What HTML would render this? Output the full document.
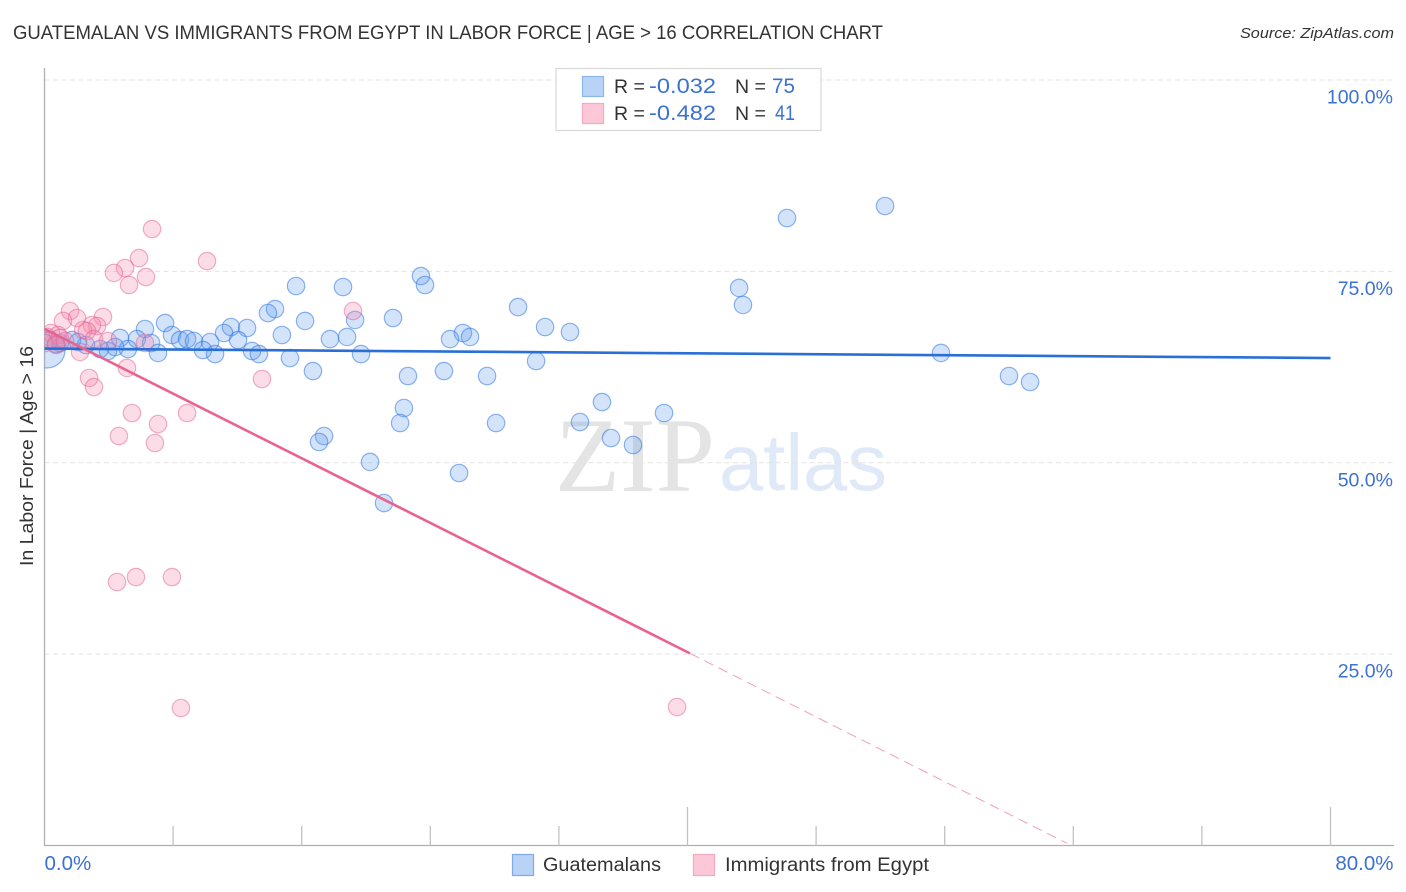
<!DOCTYPE html>
<html lang="en">
<head>
<meta charset="utf-8">
<title>Guatemalan vs Immigrants from Egypt in Labor Force | Age &gt; 16 Correlation Chart</title>
<style>
html,body{margin:0;padding:0;background:#fff;}
svg{display:block;font-family:"Liberation Sans",sans-serif;}
</style>
</head>
<body>
<svg id="chart" xmlns="http://www.w3.org/2000/svg" width="1406" height="892" viewBox="0 0 1406 892">
  <defs>
    <clipPath id="plot-clip"><rect x="44.5" y="60" width="1350" height="786"/></clipPath>
  </defs>
  <rect width="1406" height="892" fill="#ffffff"/>
  <text x="13" y="39" font-size="19" fill="#333333" textLength="870" lengthAdjust="spacingAndGlyphs">GUATEMALAN VS IMMIGRANTS FROM EGYPT IN LABOR FORCE | AGE &gt; 16 CORRELATION CHART</text>
  <text x="1394" y="38" font-size="15" font-style="italic" fill="#333333" text-anchor="end" textLength="154" lengthAdjust="spacingAndGlyphs">Source: ZipAtlas.com</text>

  <g>
    <text x="555" y="491" font-family="'Liberation Serif',serif" font-size="106" fill="#e4e4e4" textLength="160" lengthAdjust="spacingAndGlyphs">ZIP</text>
    <text x="719" y="490" font-size="80" fill="#dfe9f7" textLength="168" lengthAdjust="spacingAndGlyphs">atlas</text>
  </g>

  <g id="grid"></g>
  <g id="axes"></g>
  <g id="points-blue" clip-path="url(#plot-clip)"></g>
  <g id="points-pink" clip-path="url(#plot-clip)"></g>
  <g id="trends"></g>
  <g id="ylabels"></g>
  <g id="xlabels"></g>

  <text transform="translate(33,456) rotate(-90)" font-size="18" fill="#333333" text-anchor="middle" textLength="220" lengthAdjust="spacingAndGlyphs">In Labor Force | Age &gt; 16</text>

  <g>
    <rect x="556" y="68.5" width="265" height="62" fill="#ffffff" stroke="#d8d8d8" stroke-width="1.2"/>
    <rect x="582.5" y="76.5" width="21" height="20" fill="#b9d3f7" stroke="#8db6ec" stroke-width="1.2"/>
    <rect x="582.5" y="103.5" width="21" height="20" fill="#fcc8d8" stroke="#f3a9c0" stroke-width="1.2"/>
    <text x="614" y="93" font-size="19.5" fill="#333333">R =</text>
    <text x="649" y="93" font-size="21" fill="#3b72d2" textLength="67" lengthAdjust="spacingAndGlyphs">-0.032</text>
    <text x="735" y="93" font-size="19.5" fill="#333333">N =</text>
    <text x="772" y="93" font-size="21" fill="#3b72d2" textLength="23" lengthAdjust="spacingAndGlyphs">75</text>
    <text x="614" y="120" font-size="19.5" fill="#333333">R =</text>
    <text x="649" y="120" font-size="21" fill="#3b72d2" textLength="67" lengthAdjust="spacingAndGlyphs">-0.482</text>
    <text x="735" y="120" font-size="19.5" fill="#333333">N =</text>
    <text x="775" y="120" font-size="21" fill="#3b72d2" textLength="20" lengthAdjust="spacingAndGlyphs">41</text>
  </g>

  <g>
    <rect x="512.5" y="854.5" width="21" height="21" fill="#b9d3f7" stroke="#7faae6" stroke-width="1.2"/>
    <text x="543" y="871" font-size="19" fill="#333333" textLength="118" lengthAdjust="spacingAndGlyphs">Guatemalans</text>
    <rect x="693.5" y="854.5" width="21" height="21" fill="#fcc8d8" stroke="#f3a9c0" stroke-width="1.2"/>
    <text x="725" y="871" font-size="19" fill="#333333" textLength="204" lengthAdjust="spacingAndGlyphs">Immigrants from Egypt</text>
  </g>
</svg>
<script>
const yTickValues = [25, 50, 75, 100];
const yTickLabels = ["25.0%", "50.0%", "75.0%", "100.0%"];
const xTickValues = [8, 16, 24, 32, 40, 48, 56, 64, 72, 80];
const xTickMajor = [40, 80];
const xEndValues = [0, 80];
const xEndLabels = ["0.0%", "80.0%"];

const guatemalanX = [46.19,52.29,15.65,18.57,23.42,23.67,43.21,43.45,14.34,13.90,29.46,16.21,19.32,21.68,31.14,32.69,7.50,6.25,7.93,11.60,12.60,11.17,14.77,26.03,26.47,25.23,17.76,18.82,4.70,5.75,6.63,8.43,8.87,9.30,10.30,12.04,9.86,10.61,12.91,13.34,15.27,19.69,7.06,5.19,4.39,3.45,3.95,2.58,1.71,0.96,30.58,16.70,22.61,24.85,27.53,55.77,60.00,61.31,34.68,22.36,22.12,28.09,33.31,38.54,35.24,36.61,17.39,17.08,20.25,25.79,21.12,0.34,0.72,2.08];
const guatemalanY = [81.97,83.54,73.09,72.96,74.39,73.22,72.83,70.61,70.08,69.56,70.34,68.52,68.65,68.91,67.73,67.08,68.25,67.47,66.69,67.73,67.60,66.95,66.69,66.95,66.43,66.16,66.16,66.43,66.30,66.16,65.64,66.03,66.16,65.90,65.77,66.03,64.73,64.20,64.60,64.20,63.68,64.20,64.34,64.86,65.12,64.86,64.60,65.38,66.03,65.64,63.29,61.98,61.33,61.98,61.33,64.34,61.33,60.55,57.93,57.15,55.19,55.19,55.32,56.50,53.23,52.32,53.49,52.71,50.10,48.66,44.74,66.03,65.51,65.77];
const guatemalanPooledX = [0.16];
const guatemalanPooledY = [64.73];

const egyptX = [6.69,10.11,5.88,5.01,4.32,6.31,5.26,19.19,1.59,2.02,3.64,1.15,3.27,2.95,2.40,2.64,0.40,0.84,0.16,0.03,0.96,0.72,1.28,3.08,3.95,6.25,2.21,5.13,2.77,3.08,13.53,5.44,8.87,7.06,4.63,6.87,4.51,5.69,7.93,8.49,39.35];
const egyptY = [80.53,76.35,76.74,75.44,74.79,74.26,73.22,69.82,69.82,68.91,69.04,68.52,67.86,67.99,67.34,67.21,66.95,66.69,66.43,65.64,66.30,65.38,65.90,66.16,65.90,65.64,64.47,62.38,61.07,59.89,60.94,56.50,56.50,55.06,53.49,52.58,34.42,35.07,35.07,17.96,18.09];

const guatemalanTrendX = [0, 80];
const guatemalanTrendY = [64.92, 63.68];
const egyptTrendX = [0, 40.15];
const egyptTrendY = [67.47, 25.1];
const egyptExtensionX = [40.15, 63.6];
const egyptExtensionY = [25.1, 0.3];

const NS = "http://www.w3.org/2000/svg";
function xScale(v) { return 44.5 + v * (1286 / 80); }
function yScale(v) { return 845.5 - v * 7.655; }
function make(tag, parentId, props) {
  const el = document.createElementNS(NS, tag);
  for (const k in props) el.setAttribute(k, props[k]);
  document.getElementById(parentId).appendChild(el);
  return el;
}

yTickValues.forEach(function (v) {
  const line = make("line", "grid", {x1: 44.5, x2: 1393, y1: yScale(v), y2: yScale(v), stroke: "#e3e3e3", "stroke-width": 1, "stroke-dasharray": "5 3.5"});
  
  
});

const yAxisLine = make("line", "axes", {x1: 44.5, x2: 44.5, y1: 68, y2: 846, stroke: "#b0b0b0", "stroke-width": 1.3});


const xAxisLine = make("line", "axes", {x1: 44, x2: 1394, y1: 845.5, y2: 845.5, stroke: "#b0b0b0", "stroke-width": 1.3});



xTickValues.forEach(function (v) {
  const top = xTickMajor.indexOf(v) >= 0 ? 807 : 826;
  const tick = make("line", "axes", {x1: xScale(v), x2: xScale(v), y1: top, y2: 845.5, stroke: "#c2c2c2", "stroke-width": 1.3});
  
  
});

const blueStyle = {fill: "rgba(96,155,238,0.28)", stroke: "rgba(50,120,225,0.55)", "stroke-width": 1.2};
const pinkStyle = {fill: "rgba(245,140,175,0.3)", stroke: "rgba(225,100,145,0.5)", "stroke-width": 1.2};

guatemalanPooledX.forEach(function (v, i) {
  const c = make("circle", "points-blue", Object.assign({cx: xScale(v), cy: yScale(guatemalanPooledY[i]), r: 18}, blueStyle));
  
  
});
guatemalanX.forEach(function (v, i) {
  const c = make("circle", "points-blue", Object.assign({cx: xScale(v), cy: yScale(guatemalanY[i]), r: 8.7}, blueStyle));
  
  
});
egyptX.forEach(function (v, i) {
  const c = make("circle", "points-pink", Object.assign({cx: xScale(v), cy: yScale(egyptY[i]), r: 8.7}, pinkStyle));
  
  
});

const blueTrend = make("line", "trends", {x1: xScale(guatemalanTrendX[0]), y1: yScale(guatemalanTrendY[0]), x2: xScale(guatemalanTrendX[1]), y2: yScale(guatemalanTrendY[1]), stroke: "#2a6fd6", "stroke-width": 2.6});


const pinkTrend = make("line", "trends", {x1: xScale(egyptTrendX[0]), y1: yScale(egyptTrendY[0]), x2: xScale(egyptTrendX[1]), y2: yScale(egyptTrendY[1]), stroke: "#e8648f", "stroke-width": 2.6});


const pinkExtension = make("line", "trends", {x1: xScale(egyptExtensionX[0]), y1: yScale(egyptExtensionY[0]), x2: xScale(egyptExtensionX[1]), y2: yScale(egyptExtensionY[1]), stroke: "#f0a0ba", "stroke-width": 1, "stroke-dasharray": "10 6"});



yTickValues.forEach(function (v, i) {
  const t = make("text", "ylabels", {x: 1393, y: yScale(v) + 23.5, "font-size": 19.5, fill: "#3b72d2", "text-anchor": "end"});
  t.textContent = yTickLabels[i];
  
  
});
xEndValues.forEach(function (v, i) {
  const t = make("text", "xlabels", {x: i === 0 ? xScale(v) : xScale(v) + 63, y: 870, "font-size": 20.5, fill: "#3b72d2", "text-anchor": i === 0 ? "start" : "end"});
  t.textContent = xEndLabels[i];
  
  
});
</script>
</body>
</html>
